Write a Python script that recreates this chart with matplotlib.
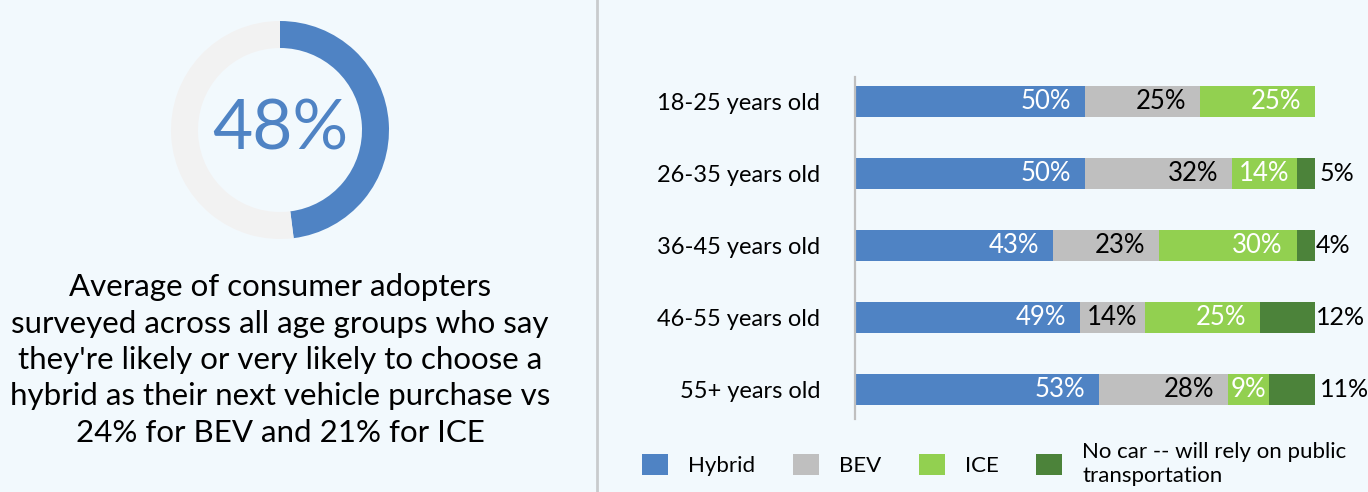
import matplotlib
matplotlib.use("Agg")
import matplotlib.pyplot as plt
from matplotlib.lines import Line2D
import numpy as np

# ── Data ──────────────────────────────────────────────────────────────────────
ages = ["18-25 years old", "26-35 years old", "36-45 years old",
        "46-55 years old", "55+ years old"]
hybrid = [50, 50, 43, 49, 53]
bev    = [25, 32, 23, 14, 28]
ice    = [25, 14, 30, 25, 9]
no_car = [0, 5, 4, 12, 11]

series_names = ["Hybrid", "BEV", "ICE", "No car -- will rely on public\ntransportation"]
series_colors = ["#4F83C4", "#BFBFBF", "#92D050", "#4C833A"]
label_colors = ["white", "black", "white", "black"]

donut_value = 48
summary = ("Average of consumer adopters\n"
           "surveyed across all age groups who say\n"
           "they're likely or very likely to choose a\n"
           "hybrid as their next vehicle purchase vs\n"
           "24% for BEV and 21% for ICE")

BG = "#F2F9FD"
W, H = 1368, 492
plt.rcParams["font.family"] = ["Lato", "DejaVu Sans"]

fig = plt.figure(figsize=(W / 100, H / 100), dpi=100, facecolor=BG)


def px_box(x0, y0, x1, y1):
    # pixel box (top-left origin) -> figure fraction rect
    return [x0 / W, 1 - y1 / H, (x1 - x0) / W, (y1 - y0) / H]


# ── Donut ────────────────────────────────────────────────────────────────────
cx, cy, r = 280, 130, 109
ax_d = fig.add_axes(px_box(cx - r, cy - r, cx + r, cy + r))
ax_d.pie([donut_value, 100 - donut_value], startangle=90, counterclock=False,
         colors=["#4F83C4", "#F2F2F2"], radius=1.0,
         wedgeprops=dict(width=27 / 109, linewidth=0))
ax_d.set_xlim(-1, 1); ax_d.set_ylim(-1, 1)
ax_d.set_aspect("equal")
ax_d.axis("off")
ax_d.text(0, 0.0, f"{donut_value}%", ha="center", va="center",
          fontsize=50, color="#4F83C4")

fig.text(280 / W, 1 - 360 / H, summary, ha="center", va="center",
         fontsize=22.5, linespacing=1.36, color="black")

# divider
fig.add_artist(Line2D([597 / W, 597 / W], [0, 1], color="#C9CBCD", lw=2,
                      transform=fig.transFigure))

# ── Stacked bars ─────────────────────────────────────────────────────────────
ax = fig.add_axes(px_box(855, 65.5, 1315, 425.5))
ax.set_facecolor("none")
y = np.arange(len(ages))
left = np.zeros(len(ages))
bars = []
for vals, name, col, lc in zip([hybrid, bev, ice, no_car], series_names,
                               series_colors, label_colors):
    vals = np.array(vals, dtype=float)
    b = ax.barh(y, vals, left=left, height=0.43, color=col, label=name,
                linewidth=0)
    bars.append(b)
    for i, v in enumerate(vals):
        if v <= 0:
            continue
        end = left[i] + v
        if name.startswith("No car"):
            ax.text(end + 0.1, y[i], f"{v:.0f}%", ha="left", va="center",
                    fontsize=18, color=lc, clip_on=False)
        elif v >= 20:
            ax.text(end - 3.0, y[i], f"{v:.0f}%", ha="right", va="center",
                    fontsize=18.5, color=lc)
        else:
            ax.text(left[i] + v / 2, y[i], f"{v:.0f}%", ha="center",
                    va="center", fontsize=18.5, color=lc)
    left += vals

ax.set_xlim(0, 100)
ax.set_ylim(len(ages) - 0.5, -0.5)
ax.set_yticks(y)
ax.set_yticklabels(ages, fontsize=17)
ax.tick_params(axis="y", length=0, pad=25)
ax.set_xticks([])
for s in ["top", "right", "bottom"]:
    ax.spines[s].set_visible(False)
ax.spines["left"].set_color("#BFBFBF")
ax.spines["left"].set_linewidth(1.6)
ax.spines["left"].set_bounds(-0.34, 4.41)

leg = fig.legend(handles=bars, labels=series_names, ncol=4, frameon=False,
                 loc="center left", bbox_to_anchor=(642 / W, 1 - 464 / H),
                 prop=dict(size=16),
                 handlelength=1.17, handleheight=1.08, handletextpad=0.9,
                 columnspacing=1.7, borderpad=0, borderaxespad=0)

fig.savefig("out.png", dpi=100, facecolor=BG)
